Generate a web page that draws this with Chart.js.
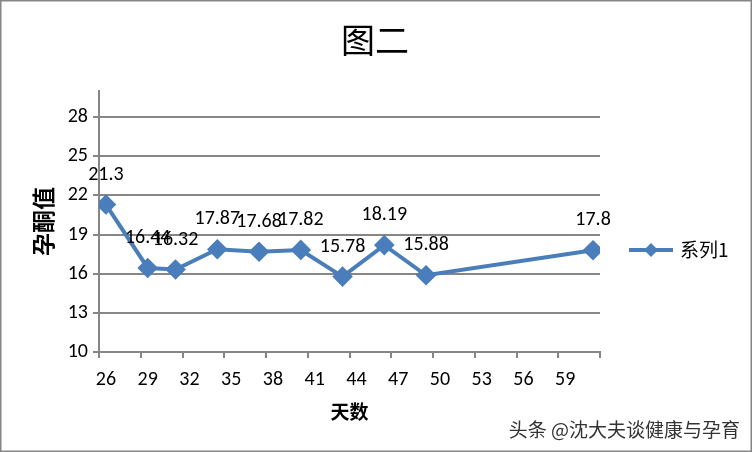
<!DOCTYPE html>
<html>
<head>
<meta charset="utf-8">
<script src="https://cdn.jsdelivr.net/npm/chart.js@4.4.1/dist/chart.umd.min.js"></script>
<style>
  html, body { margin: 0; padding: 0; background: #fff; }
  #wrap { width: 752px; height: 452px; position: relative; }
</style>
</head>
<body>
<div id="wrap"><canvas id="chart1"></canvas></div>
<script>
// data
var days = [26, 29, 31, 34, 37, 40, 43, 46, 49, 61];
var values = [21.3, 16.44, 16.32, 17.87, 17.68, 17.82, 15.78, 18.19, 15.88, 17.8];
var xTickLabels = [26, 29, 32, 35, 38, 41, 44, 47, 50, 53, 56, 59];
var yTicks = [10, 13, 16, 19, 22, 25, 28];
var seriesName = "系列1";
var chartTitle = "图二";
var xTitle = "天数";
var yTitle = "孕酮值";
var watermark = "头条 @沈大夫谈健康与孕育";

var blue = "#4A7EBB";
var grey = "#868686";
var cjk = "'Noto Sans CJK SC', 'Noto Sans', sans-serif";
var latin = "Carlito, 'Liberation Sans', 'Noto Sans', sans-serif";

var points = days.map(function(d, i){ return {x: d, y: values[i]}; });

//draws title, legend, point labels, watermark and frame
var extras = {
    id: "extras",
    afterDatasetsDraw: function(chart){
        var c = chart.ctx;
        var meta = chart.getDatasetMeta(0);
        c.save();
        // value labels above the points
        c.fillStyle = "#000";
        c.font = "20px " + latin;
        c.textAlign = "center";
        c.textBaseline = "middle";
        meta.data.forEach(function(el, i){
            c.fillText(String(values[i]), el.x, el.y - 30);
        });
        // title
        c.font = "34px " + cjk;
        c.fillText(chartTitle, 375, 40);
        // legend
        c.strokeStyle = blue;
        c.lineWidth = 4;
        c.beginPath();
        c.moveTo(629, 250);
        c.lineTo(673, 250);
        c.stroke();
        c.fillStyle = blue;
        c.beginPath();
        c.moveTo(651, 243); c.lineTo(658, 250); c.lineTo(651, 257); c.lineTo(644, 250);
        c.closePath();
        c.fill();
        c.fillStyle = "#000";
        c.textAlign = "left";
        c.font = "19px " + cjk;
        c.fillText(seriesName, 680, 250);
        // watermark
        c.font = "19px " + cjk;
        c.fillStyle = "#333";
        c.textAlign = "right";
        c.fillText(watermark, 740, 430);
        // frame
        c.strokeStyle = grey;
        c.lineWidth = 3;
        c.strokeRect(0, 0, 752, 452);
        c.restore();
    }
};

var ctx1 = document.getElementById("chart1");

var chart1 = new Chart(ctx1, {
    type: "line",
    data: {
        datasets: [{
            label: seriesName,
            data: points,
            borderColor: blue,
            backgroundColor: blue,
            borderWidth: 4,
            pointStyle: "rectRot",
            pointRadius: 7.5,
            pointHoverRadius: 7.5,
            tension: 0
        }]
    },
    options: {
        responsive: true,
        maintainAspectRatio: false,
        animation: false,
        layout: { padding: { left: 0, top: 91, right: 152, bottom: 0 } },
        plugins: {
            legend: { display: false },
            tooltip: { enabled: false }
        },
        scales: {
            x: {
                type: "linear",
                min: xTickLabels[0] - 0.5,
                max: days[days.length - 1] + 0.5,
                afterBuildTicks: function(scale){
                    var t = xTickLabels.map(function(v){ return {value: v - 0.5}; });
                    t.push({value: scale.max});
                    scale.ticks = t;
                },
                afterFit: function(scale){ scale.height = 100; },
                ticks: {
                    autoSkip: false,
                    maxRotation: 0,
                    labelOffset: 7,
                    padding: 10,
                    color: "#000",
                    font: { family: latin, size: 20 },
                    callback: function(v){
                        var lab = v + 0.5;
                        return xTickLabels.indexOf(lab) >= 0 ? String(lab) : "";
                    }
                },
                grid: {
                    drawOnChartArea: false,
                    drawTicks: true,
                    tickLength: 6,
                    color: grey,
                    lineWidth: 2
                },
                border: { color: grey, width: 2 },
                title: {
                    display: true,
                    text: xTitle,
                    color: "#000",
                    font: { family: cjk, size: 19, weight: "bold" },
                    padding: { top: 0, bottom: 29 }
                }
            },
            y: {
                min: 10,
                max: 30,
                afterBuildTicks: function(scale){
                    scale.ticks = yTicks.map(function(v){ return {value: v}; });
                },
                afterFit: function(scale){ scale.width = 99; },
                ticks: {
                    padding: 5,
                    color: "#000",
                    font: { family: latin, size: 20 }
                },
                grid: {
                    color: grey,
                    lineWidth: 2,
                    tickLength: 6
                },
                border: { color: grey, width: 2 },
                title: {
                    display: true,
                    text: yTitle,
                    color: "#000",
                    font: { family: cjk, size: 23, weight: "bold" },
                    padding: { top: 29, bottom: 0 }
                }
            }
        }
    },
    plugins: [extras]
});
</script>
</body>
</html>
